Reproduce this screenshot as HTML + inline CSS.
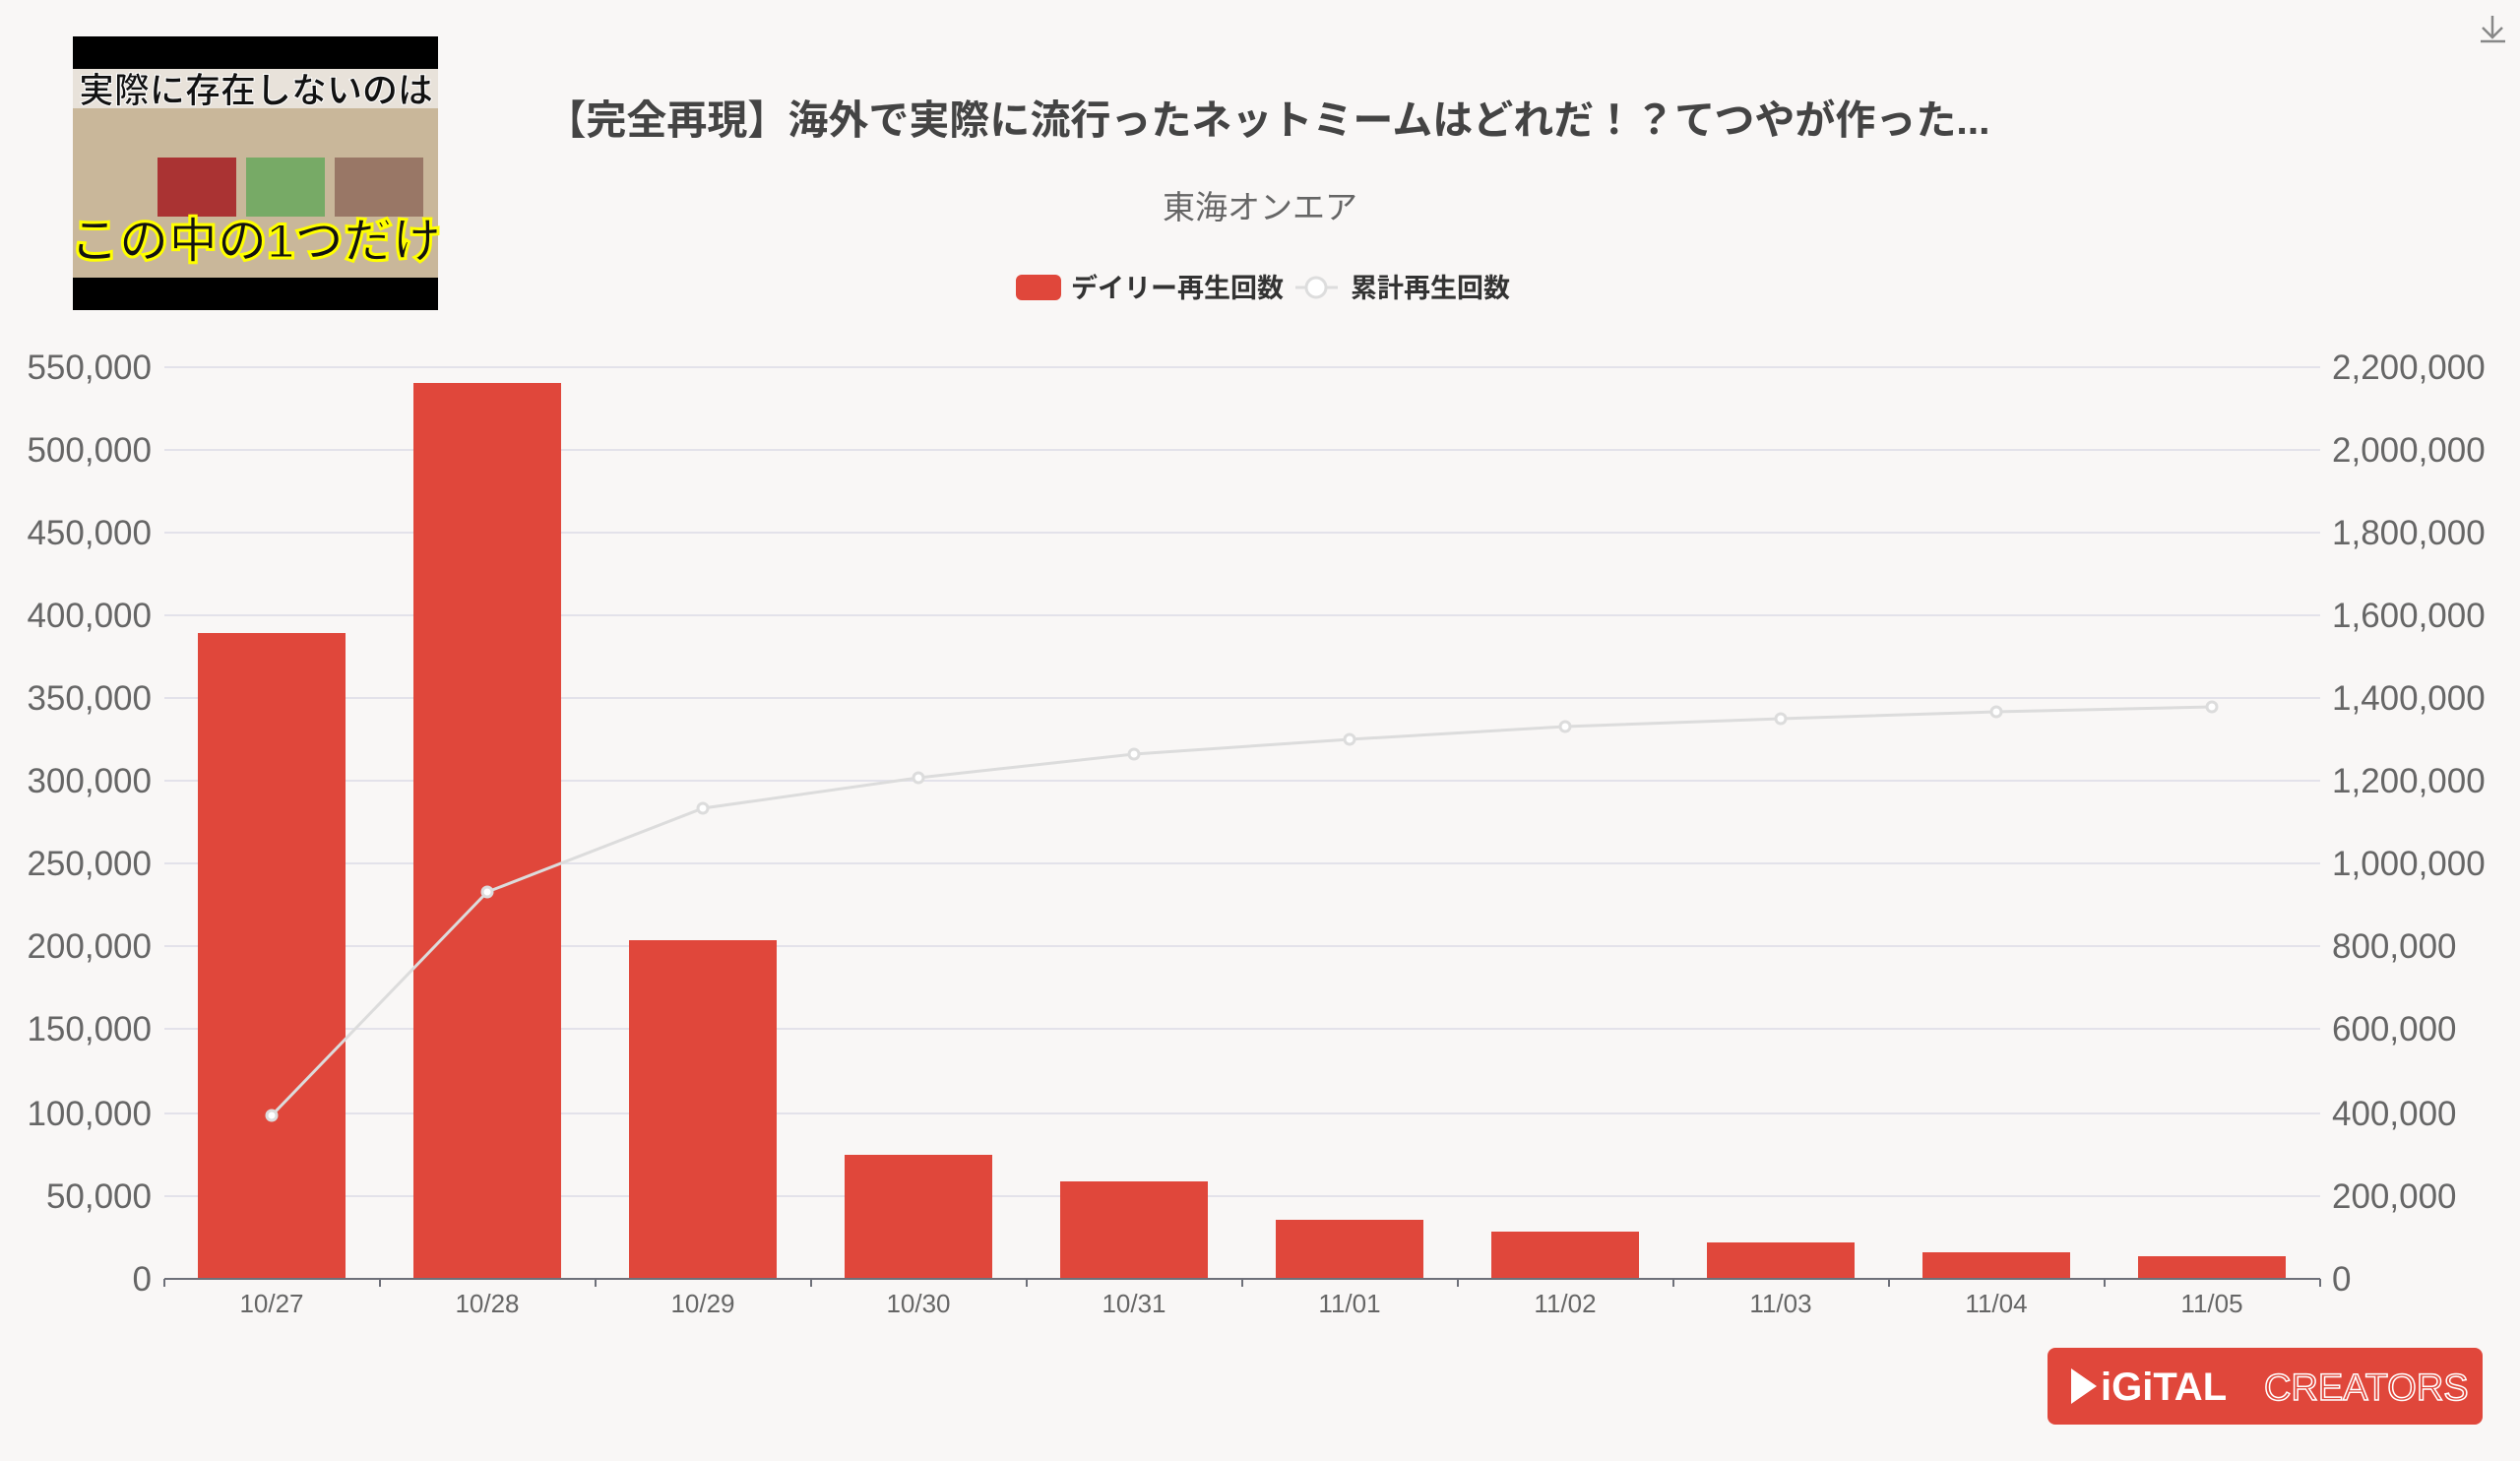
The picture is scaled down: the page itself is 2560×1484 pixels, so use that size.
<!DOCTYPE html>
<html><head><meta charset="utf-8"><style>
html,body{margin:0;padding:0;background:#f9f7f6;}
svg{display:block;}
text{font-family:"Liberation Sans","Noto Sans CJK JP",sans-serif;}
</style></head><body>
<svg width="2560" height="1484" viewBox="0 0 2560 1484" xmlns="http://www.w3.org/2000/svg">
<rect width="2560" height="1484" fill="#f9f7f6"/>
<!-- thumbnail -->
<rect x="74" y="37" width="371" height="278" fill="#000"/>
<rect x="74" y="70" width="371" height="212" fill="#c9b79a"/>
<rect x="74" y="70" width="371" height="40" fill="#e8e2da"/>
<rect x="160" y="160" width="80" height="60" fill="#a33"/>
<rect x="250" y="160" width="80" height="60" fill="#7a6"/>
<rect x="340" y="160" width="90" height="60" fill="#976"/>
<text x="260" y="104" font-size="36" font-weight="bold" text-anchor="middle" fill="#111" stroke="#fff" stroke-width="1">実際に存在しないのは</text>
<text x="260" y="262" font-size="50" font-weight="bold" text-anchor="middle" fill="#111" stroke="#ff0" stroke-width="3">この中の1つだけ</text>
<!-- title -->
<text x="1288" y="136" font-size="41" font-weight="bold" text-anchor="middle" fill="#444">【完全再現】海外で実際に流行ったネットミームはどれだ！？てつやが作った...</text>
<text x="1280" y="222" font-size="33" text-anchor="middle" fill="#666">東海オンエア</text>
<!-- legend -->
<rect x="1032" y="279" width="46" height="26" rx="6" fill="#e0473b"/>
<text x="1088" y="302" font-size="27" font-weight="bold" fill="#333">デイリー再生回数</text>
<line x1="1316" y1="292" x2="1359" y2="292" stroke="#ddd" stroke-width="3"/>
<circle cx="1337" cy="292" r="10" fill="#fff" stroke="#ddd" stroke-width="3"/>
<text x="1372" y="302" font-size="27" font-weight="bold" fill="#333">累計再生回数</text>
<!-- grid -->
<g stroke="#e3e2ea" stroke-width="2">
<line x1="167" x2="2357" y1="373" y2="373"/><line x1="167" x2="2357" y1="457" y2="457"/>
<line x1="167" x2="2357" y1="541" y2="541"/><line x1="167" x2="2357" y1="625" y2="625"/>
<line x1="167" x2="2357" y1="709" y2="709"/><line x1="167" x2="2357" y1="793" y2="793"/>
<line x1="167" x2="2357" y1="877" y2="877"/><line x1="167" x2="2357" y1="961" y2="961"/>
<line x1="167" x2="2357" y1="1045" y2="1045"/><line x1="167" x2="2357" y1="1131" y2="1131"/>
<line x1="167" x2="2357" y1="1215" y2="1215"/>
</g>
<!-- left labels -->
<g font-size="35" fill="#666" text-anchor="end">
<text x="154" y="385">550,000</text><text x="154" y="469">500,000</text><text x="154" y="553">450,000</text>
<text x="154" y="637">400,000</text><text x="154" y="721">350,000</text><text x="154" y="805">300,000</text>
<text x="154" y="889">250,000</text><text x="154" y="973">200,000</text><text x="154" y="1057">150,000</text>
<text x="154" y="1143">100,000</text><text x="154" y="1227">50,000</text><text x="154" y="1311">0</text>
</g>
<g font-size="35" fill="#666" text-anchor="start">
<text x="2369" y="385">2,200,000</text><text x="2369" y="469">2,000,000</text><text x="2369" y="553">1,800,000</text>
<text x="2369" y="637">1,600,000</text><text x="2369" y="721">1,400,000</text><text x="2369" y="805">1,200,000</text>
<text x="2369" y="889">1,000,000</text><text x="2369" y="973">800,000</text><text x="2369" y="1057">600,000</text>
<text x="2369" y="1143">400,000</text><text x="2369" y="1227">200,000</text><text x="2369" y="1311">0</text>
</g>
<!-- bars -->
<g fill="#e0473b">
<rect x="201" y="643" width="150" height="656"/>
<rect x="420" y="389" width="150" height="910"/>
<rect x="639" y="955" width="150" height="344"/>
<rect x="858" y="1173" width="150" height="126"/>
<rect x="1077" y="1200" width="150" height="99"/>
<rect x="1296" y="1239" width="150" height="60"/>
<rect x="1515" y="1251" width="150" height="48"/>
<rect x="1734" y="1262" width="150" height="37"/>
<rect x="1953" y="1272" width="150" height="27"/>
<rect x="2172" y="1276" width="150" height="23"/>
</g>
<!-- axis -->
<line x1="167" x2="2357" y1="1299" y2="1299" stroke="#6e7079" stroke-width="2"/>
<g stroke="#6e7079" stroke-width="2">
<line x1="167" x2="167" y1="1299" y2="1307"/><line x1="386" x2="386" y1="1299" y2="1307"/>
<line x1="605" x2="605" y1="1299" y2="1307"/><line x1="824" x2="824" y1="1299" y2="1307"/>
<line x1="1043" x2="1043" y1="1299" y2="1307"/><line x1="1262" x2="1262" y1="1299" y2="1307"/>
<line x1="1481" x2="1481" y1="1299" y2="1307"/><line x1="1700" x2="1700" y1="1299" y2="1307"/>
<line x1="1919" x2="1919" y1="1299" y2="1307"/><line x1="2138" x2="2138" y1="1299" y2="1307"/>
<line x1="2357" x2="2357" y1="1299" y2="1307"/>
</g>
<g font-size="26" fill="#666" text-anchor="middle">
<text x="276" y="1333">10/27</text><text x="495" y="1333">10/28</text><text x="714" y="1333">10/29</text>
<text x="933" y="1333">10/30</text><text x="1152" y="1333">10/31</text><text x="1371" y="1333">11/01</text>
<text x="1590" y="1333">11/02</text><text x="1809" y="1333">11/03</text><text x="2028" y="1333">11/04</text>
<text x="2247" y="1333">11/05</text>
</g>
<!-- line -->
<polyline fill="none" stroke="#dcdcdc" stroke-width="3" points="276,1133 495,906 714,821 933,790 1152,766 1371,751 1590,738 1809,730 2028,723 2247,718"/>
<g fill="#fff" stroke="#dcdcdc" stroke-width="3">
<circle cx="276" cy="1133" r="5"/><circle cx="495" cy="906" r="5"/><circle cx="714" cy="821" r="5"/>
<circle cx="933" cy="790" r="5"/><circle cx="1152" cy="766" r="5"/><circle cx="1371" cy="751" r="5"/>
<circle cx="1590" cy="738" r="5"/><circle cx="1809" cy="730" r="5"/><circle cx="2028" cy="723" r="5"/>
<circle cx="2247" cy="718" r="5"/>
</g>
<!-- download icon -->
<g stroke="#888" stroke-width="2.5" fill="none">
<path d="M2532 16 V38 M2522 28 L2532 38 L2542 28 M2520 42 H2545"/>
</g>
<!-- logo -->
<rect x="2080" y="1369" width="442" height="78" rx="8" fill="#e0473b"/>
<path d="M2104 1390 L2130 1408 L2104 1426 Z" fill="#fff"/>
<text x="2134" y="1422" font-size="40" font-weight="bold" fill="#fff">iGiTAL</text>
<text x="2300" y="1422" font-size="38" fill="none" stroke="#fff" stroke-width="1.5">CREATORS</text>
</svg>
</body></html>
